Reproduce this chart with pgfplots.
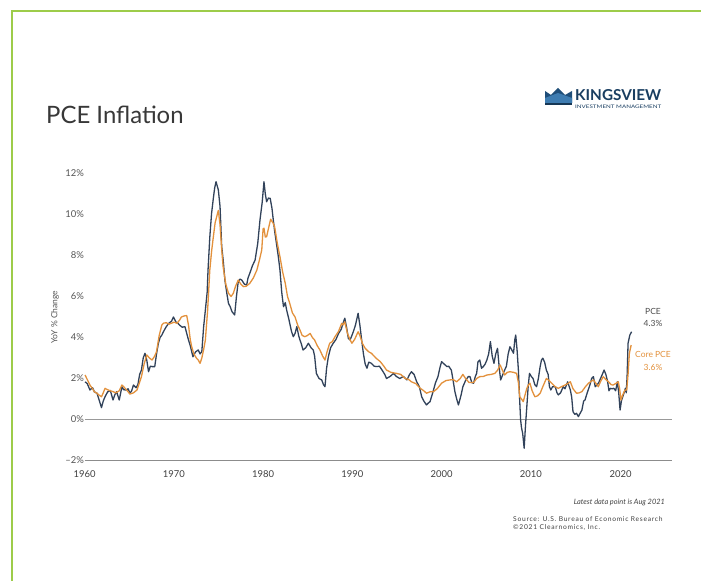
\documentclass[border=0pt]{standalone}
\usepackage{fontspec}
\setmainfont{Lato}
\usepackage{pgfplots}
\pgfplotsset{compat=1.18}
\definecolor{pcenavy}{HTML}{31425A}
\definecolor{coreorange}{HTML}{E3913C}
\definecolor{framegreen}{HTML}{9DCC4A}
\definecolor{txtgray}{HTML}{555555}
\definecolor{logoblue}{HTML}{1F4E79}
\definecolor{logolight}{HTML}{3E7CB1}

\pgfplotstableread{
x y
1960.05 1.84
1960.3 1.75
1960.6 1.44
1960.9 1.55
1961.1 1.35
1961.4 1.28
1961.6 1.0
1961.9 0.58
1962.1 0.9
1962.3 1.11
1962.6 1.35
1962.9 1.41
1963.2 0.95
1963.4 1.2
1963.6 1.36
1963.9 0.95
1964.2 1.6
1964.4 1.45
1964.7 1.44
1964.9 1.5
1965.1 1.28
1965.3 1.4
1965.5 1.68
1965.8 1.55
1966.0 1.7
1966.2 2.2
1966.4 2.41
1966.6 3.0
1966.8 3.23
1967.0 2.9
1967.2 2.33
1967.4 2.6
1967.6 2.58
1967.9 2.58
1968.1 3.2
1968.3 3.7
1968.5 4.0
1968.7 4.12
1968.9 4.3
1969.2 4.53
1969.5 4.7
1969.8 4.8
1970.0 5.0
1970.3 4.75
1970.5 4.7
1970.7 4.6
1971.0 4.5
1971.3 4.53
1971.5 4.2
1971.7 3.88
1971.9 3.6
1972.2 3.06
1972.5 3.3
1972.8 3.39
1973.0 3.2
1973.2 3.31
1973.4 4.5
1973.6 5.34
1973.8 6.2
1973.9 7.29
1974.1 8.9
1974.3 10.06
1974.5 10.8
1974.65 11.3
1974.8 11.6
1975.06 11.2
1975.25 10.4
1975.44 8.43
1975.6 7.8
1975.8 6.8
1976.0 6.2
1976.2 5.67
1976.4 5.5
1976.6 5.26
1976.9 5.1
1977.1 6.0
1977.3 6.72
1977.5 6.85
1977.7 6.8
1978.0 6.6
1978.25 6.56
1978.4 6.9
1978.6 7.13
1978.9 7.5
1979.2 7.78
1979.5 8.6
1979.75 9.73
1980.0 10.6
1980.2 11.6
1980.35 11.0
1980.5 10.62
1980.7 10.8
1980.9 10.79
1981.1 10.3
1981.25 9.73
1981.4 9.2
1981.6 8.6
1981.8 8.0
1982.0 7.29
1982.2 6.2
1982.4 5.5
1982.6 5.7
1982.75 5.34
1983.0 4.9
1983.1 4.69
1983.3 4.3
1983.5 4.04
1983.7 4.2
1983.9 4.53
1984.1 4.1
1984.25 3.88
1984.4 3.7
1984.6 3.39
1984.9 3.5
1985.2 3.72
1985.5 3.5
1985.75 3.39
1985.9 3.1
1986.1 2.25
1986.4 2.0
1986.7 1.93
1986.9 1.7
1987.07 1.6
1987.25 2.5
1987.45 3.06
1987.7 3.5
1988.0 3.72
1988.3 3.9
1988.6 4.2
1988.9 4.4
1989.1 4.69
1989.3 4.94
1989.5 4.5
1989.7 3.96
1989.9 3.88
1990.1 4.1
1990.26 4.28
1990.5 4.6
1990.8 5.18
1991.0 4.6
1991.2 3.88
1991.4 3.2
1991.6 2.7
1991.8 2.5
1992.0 2.8
1992.3 2.74
1992.6 2.6
1992.9 2.58
1993.2 2.6
1993.5 2.41
1993.8 2.2
1994.0 2.0
1994.4 2.1
1994.8 2.25
1995.1 2.1
1995.5 2.0
1995.9 2.1
1996.3 1.93
1996.6 2.2
1996.8 2.33
1997.1 2.2
1997.4 1.84
1997.7 1.6
1997.96 1.11
1998.2 0.9
1998.5 0.71
1998.7 0.8
1998.9 0.87
1999.2 1.3
1999.5 1.77
1999.8 2.1
2000.0 2.5
2000.2 2.82
2000.5 2.7
2000.8 2.58
2001.0 2.6
2001.3 2.41
2001.5 1.9
2001.7 1.36
2001.9 1.0
2002.1 0.71
2002.4 1.2
2002.6 1.6
2002.9 1.9
2003.2 2.09
2003.4 2.09
2003.6 1.8
2003.8 1.77
2004.0 2.1
2004.15 2.25
2004.3 2.82
2004.5 2.9
2004.7 2.5
2004.9 2.58
2005.1 2.7
2005.3 2.9
2005.5 3.2
2005.7 3.8
2005.9 3.1
2006.1 2.74
2006.3 3.2
2006.5 3.47
2006.7 2.5
2006.85 1.93
2007.1 2.2
2007.3 2.41
2007.5 2.6
2007.7 3.2
2007.9 3.55
2008.1 3.4
2008.3 3.23
2008.45 3.9
2008.55 4.12
2008.7 3.4
2008.85 2.41
2009.0 0.9
2009.1 -0.02
2009.2 -0.4
2009.33 -0.67
2009.5 -1.4
2009.65 -0.3
2009.8 0.63
2009.95 1.6
2010.1 2.25
2010.3 2.1
2010.5 2.0
2010.7 1.7
2010.9 1.6
2011.1 2.0
2011.3 2.58
2011.45 2.9
2011.6 2.99
2011.8 2.8
2012.0 2.41
2012.2 2.2
2012.35 1.6
2012.5 1.44
2012.7 1.6
2013.0 1.6
2013.2 1.3
2013.35 1.2
2013.6 1.3
2013.9 1.6
2014.1 1.5
2014.4 1.84
2014.7 1.44
2014.85 1.1
2015.0 0.38
2015.2 0.25
2015.4 0.3
2015.6 0.14
2015.8 0.3
2016.0 0.46
2016.2 0.9
2016.35 0.95
2016.6 1.3
2016.9 1.68
2017.1 2.0
2017.3 2.09
2017.5 1.6
2017.7 1.68
2017.9 1.8
2018.1 2.0
2018.3 2.2
2018.5 2.41
2018.7 2.2
2018.9 1.84
2019.05 1.4
2019.2 1.52
2019.4 1.5
2019.6 1.52
2019.8 1.4
2020.0 1.84
2020.15 1.3
2020.3 0.46
2020.45 0.9
2020.6 1.11
2020.75 1.3
2020.9 1.52
2021.0 1.3
2021.1 2.2
2021.2 3.72
2021.4 4.12
2021.6 4.28
}\pcedata

\pgfplotstableread{
x y
1960.05 2.17
1960.3 1.95
1960.6 1.68
1960.9 1.5
1961.1 1.35
1961.4 1.28
1961.6 1.2
1961.9 1.11
1962.1 1.3
1962.3 1.52
1962.6 1.45
1962.9 1.4
1963.2 1.36
1963.5 1.3
1963.9 1.4
1964.2 1.68
1964.4 1.6
1964.7 1.45
1964.9 1.35
1965.1 1.24
1965.5 1.3
1965.9 1.44
1966.1 1.7
1966.4 2.09
1966.7 2.7
1967.0 3.15
1967.3 3.0
1967.6 2.9
1967.9 3.1
1968.1 3.31
1968.4 4.1
1968.7 4.61
1968.9 4.7
1969.2 4.72
1969.5 4.65
1969.8 4.7
1970.1 4.75
1970.4 4.69
1970.7 4.85
1970.9 5.0
1971.2 5.05
1971.5 5.07
1971.7 4.6
1971.9 3.9
1972.06 3.55
1972.3 3.2
1972.6 2.99
1972.8 2.9
1973.0 2.74
1973.2 3.0
1973.4 3.4
1973.6 3.88
1973.85 5.3
1974.1 7.29
1974.3 8.2
1974.5 8.92
1974.7 9.6
1975.06 10.2
1975.25 9.5
1975.44 8.3
1975.6 7.45
1975.9 6.6
1976.2 6.16
1976.5 6.0
1976.75 6.16
1977.0 6.5
1977.3 6.8
1977.6 6.6
1977.9 6.48
1978.2 6.5
1978.6 6.64
1979.0 6.9
1979.4 7.29
1979.7 7.8
1979.95 8.27
1980.1 9.3
1980.2 9.33
1980.35 8.9
1980.5 8.92
1980.75 9.4
1980.95 9.77
1981.2 9.6
1981.4 9.4
1981.7 8.6
1982.0 7.94
1982.3 7.2
1982.6 6.64
1982.85 6.0
1983.1 5.67
1983.4 5.2
1983.7 5.0
1984.0 4.6
1984.25 4.37
1984.5 4.1
1984.8 4.04
1985.1 4.1
1985.4 4.2
1985.65 4.0
1985.9 3.88
1986.2 3.6
1986.5 3.39
1986.8 3.1
1987.07 2.9
1987.3 3.3
1987.6 3.72
1987.9 3.8
1988.2 4.04
1988.6 4.3
1988.95 4.69
1989.1 4.61
1989.3 4.77
1989.6 4.2
1989.9 3.88
1990.1 3.72
1990.4 3.9
1990.8 4.28
1991.0 4.1
1991.3 3.7
1991.6 3.47
1992.0 3.3
1992.3 3.23
1992.8 3.0
1993.3 2.82
1993.7 2.6
1994.0 2.41
1994.5 2.3
1995.1 2.25
1995.6 2.2
1996.1 2.0
1996.5 1.95
1996.8 1.84
1997.3 1.75
1997.8 1.52
1998.2 1.4
1998.5 1.28
1998.9 1.35
1999.3 1.36
1999.7 1.5
2000.2 1.77
2000.7 1.9
2001.15 1.93
2001.5 1.95
2001.9 1.84
2002.3 2.0
2002.6 2.2
2002.9 2.0
2003.3 1.8
2003.8 1.8
2004.15 2.0
2004.5 2.09
2004.9 2.1
2005.3 2.17
2005.8 2.2
2006.2 2.25
2006.5 2.4
2006.8 2.66
2007.05 2.4
2007.3 2.17
2007.6 2.3
2007.9 2.33
2008.3 2.3
2008.65 2.25
2008.85 1.8
2009.0 1.11
2009.2 1.0
2009.4 0.87
2009.6 1.2
2009.8 1.52
2010.0 1.7
2010.15 1.77
2010.4 1.4
2010.7 1.11
2011.0 1.15
2011.3 1.28
2011.6 1.6
2012.0 2.0
2012.3 1.9
2012.6 1.77
2013.0 1.6
2013.35 1.52
2013.7 1.6
2014.1 1.68
2014.4 1.75
2014.7 1.84
2015.0 1.5
2015.4 1.28
2015.7 1.3
2016.0 1.36
2016.4 1.6
2016.75 1.77
2017.0 1.85
2017.3 1.93
2017.6 1.75
2017.85 1.6
2018.1 1.85
2018.4 2.09
2018.7 1.95
2019.0 1.84
2019.3 1.7
2019.5 1.68
2019.8 1.75
2020.1 1.84
2020.25 1.5
2020.4 0.95
2020.6 1.2
2020.85 1.44
2021.05 1.44
2021.2 2.2
2021.35 3.23
2021.55 3.63
}\coredata

\begin{document}
\begin{tikzpicture}[x=1bp,y=1bp]
\path[use as bounding box] (0,0) rectangle (701,581);
\fill[white] (0,0) rectangle (701,581);
\draw[framegreen, line width=2.5bp] (12,0) -- (12,570) -- (701,570);

% title
\node[anchor=base west, inner sep=0pt, text=black!78] at (46,457) {\fontsize{24}{28}\selectfont PCE Inflation};

% logo
\fill[logoblue] (545,478) -- (545,490) -- (551,486) -- (558,493) -- (565,486) -- (572,490) -- (572,478) -- cycle;
\fill[logolight] (545,478) -- (545,483) -- (558,488) -- (572,483) -- (572,478) -- cycle;
\fill[logoblue!70!black] (545,476) rectangle (572,478);
\node[anchor=south west, inner sep=0pt, text=logoblue!80!black] at (575,480) {\resizebox{86bp}{11bp}{\bfseries KINGSVIEW}};
\node[anchor=north west, inner sep=0pt, text=logoblue!80!black] at (575,476.5) {\resizebox{86bp}{3.5bp}{INVESTMENT MANAGEMENT}};

% y label
\node[rotate=90, text=txtgray] at (55,264) {\fontsize{8.5}{10}\selectfont YoY \% Change};

\begin{axis}[
  at={(84.6bp,120.5bp)}, anchor=south west,
  scale only axis, width=587.4bp, height=287bp,
  xmin=1960, xmax=2026.15, ymin=-2, ymax=12,
  clip=false,
  axis line style={draw=none},
  major tick length=0pt,
  xtick={1960,1970.05,1980.1,1990.15,2000.2,2010.25,2020.35},
  xticklabels={1960,1970,1980,1990,2000,2010,2020},
  ytick={-2,0,2,4,6,8,10,12},
  yticklabels={{\textendash}2\%,0\%,2\%,4\%,6\%,8\%,10\%,12\%},
  xticklabel style={anchor=center, yshift=-13.5bp, font=\fontsize{9.5}{11}\selectfont, text=black!75},
  yticklabel style={anchor=east, inner sep=0pt, xshift=-0.5bp, font=\fontsize{9.5}{11}\selectfont, text=txtgray},
]
\addplot[black!45, line width=1.6bp, forget plot] coordinates {(1960,-2) (2026.15,-2)};
\addplot[black!40, line width=0.8bp, forget plot] coordinates {(1960,0) (2026.15,0)};
\addplot[pcenavy, line width=1.3bp, line join=round] table {\pcedata};
\addplot[coreorange, line width=1.3bp, line join=round] table {\coredata};
\end{axis}

% annotations
\node[text=black!70] at (653,269.3) {\fontsize{8.5}{10}\selectfont PCE};
\node[text=black!70] at (653,258) {\fontsize{8.5}{10}\selectfont 4.3\%};
\node[text=coreorange] at (653,227) {\fontsize{8.5}{10}\selectfont Core PCE};
\node[text=coreorange] at (653,214) {\fontsize{8.5}{10}\selectfont 3.6\%};

% footer
\node[anchor=east, inner sep=0pt, text=black!75] at (665,78.3) {\fontsize{7.4}{9}\selectfont\itshape Latest data point is Aug 2021};
\node[anchor=west, inner sep=0pt, text=black!75] at (513,62) {\fontsize{6.7}{8}\selectfont\addfontfeatures{LetterSpace=11}Source: U.S. Bureau of Economic Research};
\node[anchor=west, inner sep=0pt, text=black!75] at (513,54) {\fontsize{6.7}{8}\selectfont\addfontfeatures{LetterSpace=11}\textcopyright2021 Clearnomics, Inc.};
\end{tikzpicture}
\end{document}
